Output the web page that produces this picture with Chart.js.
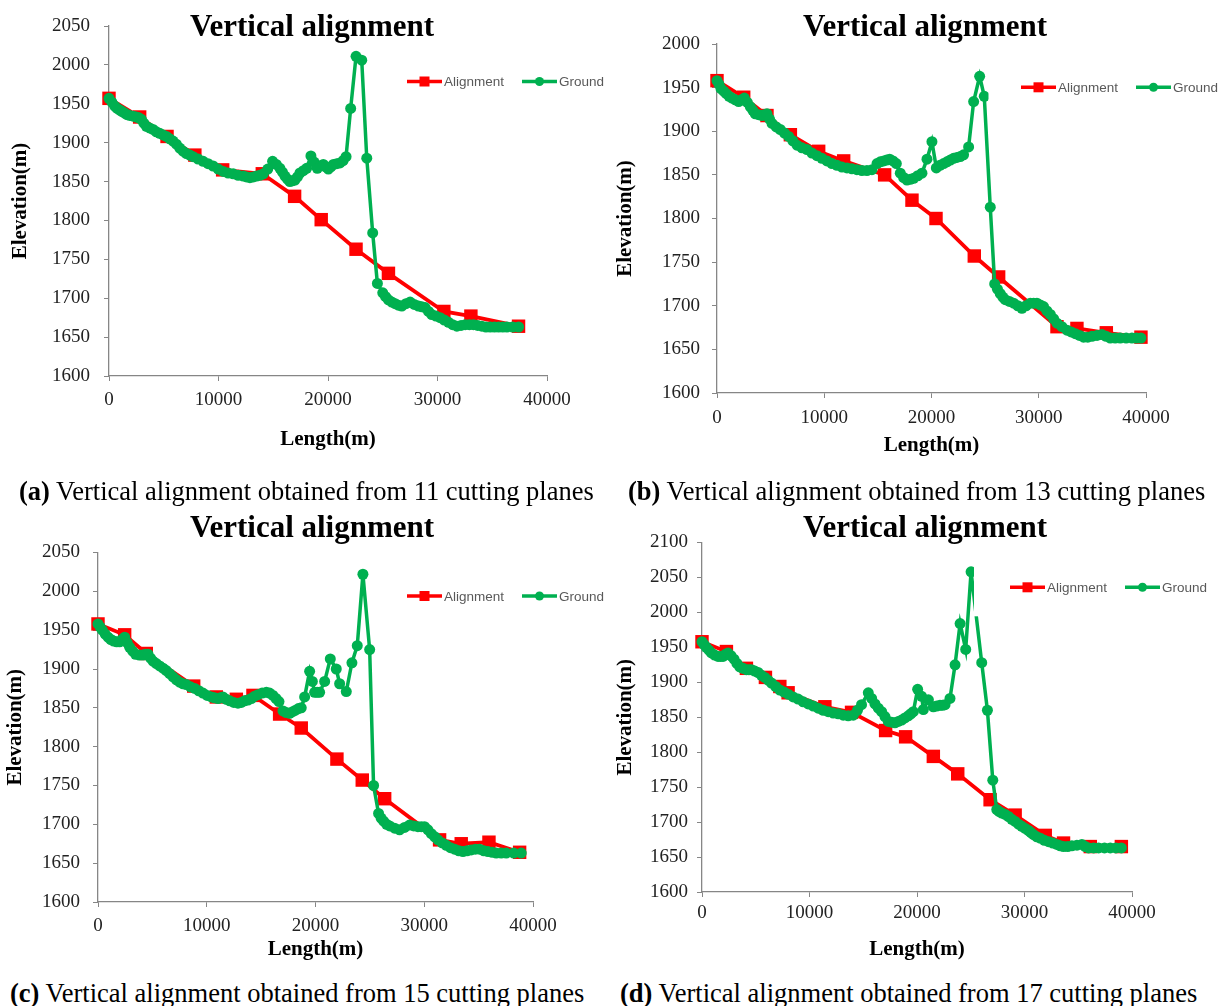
<!DOCTYPE html>
<html>
<head>
<meta charset="utf-8">
<script src="https://cdn.jsdelivr.net/npm/chart.js@4/dist/chart.umd.min.js"></script>
<style>
  body { margin: 0; background: #fff; width: 1218px; height: 1006px; position: relative; overflow: hidden; }
  canvas { position: absolute; }
  .title { position: absolute; font-family: "Liberation Serif", serif; font-weight: bold; font-size: 31px; color: #000; white-space: nowrap; transform: translate(-50%, -50%); }
  .caption { position: absolute; font-family: "Liberation Serif", serif; font-size: 26.5px; color: #000; white-space: nowrap; transform: translateY(-50%); }
</style>
</head>
<body>
<canvas id="chartA" width="610" height="470" style="left:0;top:0"></canvas>
<canvas id="chartB" width="608" height="470" style="left:610px;top:0"></canvas>
<canvas id="chartC" width="610" height="470" style="left:0;top:500px"></canvas>
<canvas id="chartD" width="608" height="470" style="left:610px;top:500px"></canvas>

<div class="title" style="left:312px;top:26px">Vertical alignment</div>
<div class="title" style="left:925px;top:26px">Vertical alignment</div>
<div class="title" style="left:312px;top:527px">Vertical alignment</div>
<div class="title" style="left:925px;top:527px">Vertical alignment</div>

<div class="caption" style="left:19px;top:491px"><b>(a)</b> Vertical alignment obtained from 11 cutting planes</div>
<div class="caption" style="left:628px;top:491px"><b>(b)</b> Vertical alignment obtained from 13 cutting planes</div>
<div class="caption" style="left:10px;top:993px"><b>(c)</b> Vertical alignment obtained from 15 cutting planes</div>
<div class="caption" style="left:620px;top:993px"><b>(d)</b> Vertical alignment obtained from 17 cutting planes</div>

<script>
// [length (m), elevation (m)]

// (a) 11 cutting planes
const alignA = [[0, 1957], [2800, 1933], [5300, 1908], [7840, 1884], [10380, 1865], [14000, 1860], [16950, 1831], [19380, 1801], [22560, 1763], [25520, 1732], [30580, 1683], [33050, 1677], [37400, 1664]];
const groundA = [
  [0, 1957], [260, 1952], [520, 1947], [750, 1944], [980, 1942], [1200, 1940], [1430, 1938], [1650, 1936], [1890, 1935], [2200, 1934],
  [2500, 1933], [2730, 1932], [2960, 1930], [3180, 1925], [3410, 1921], [3700, 1919], [4020, 1917], [4320, 1914], [4630, 1912], [4930, 1910],
  [5240, 1908], [5550, 1905], [5850, 1902], [6150, 1898], [6460, 1893], [6760, 1889], [7070, 1886], [7380, 1884], [7680, 1882], [8140, 1879],
  [8600, 1876], [9050, 1873], [9510, 1870], [9970, 1866], [10430, 1863], [10880, 1861], [11340, 1860], [11800, 1858], [12260, 1857], [12560, 1856],
  [12870, 1855], [13180, 1856], [13480, 1857], [13780, 1858], [14090, 1860], [14500, 1866], [14940, 1876], [15280, 1872], [15610, 1867], [15840, 1862],
  [16070, 1857], [16300, 1853], [16520, 1850], [16750, 1851], [16980, 1852], [17210, 1856], [17440, 1861], [17750, 1864], [18050, 1867], [18440, 1883],
  [18730, 1875], [19020, 1867], [19300, 1870], [19570, 1872], [19800, 1869], [20030, 1866], [20260, 1869], [20490, 1872], [20800, 1873], [21100, 1874],
  [21380, 1877], [21650, 1882], [22070, 1944], [22560, 2011], [23080, 2006], [23540, 1880], [24080, 1784], [24510, 1719], [25000, 1707], [25260, 1702],
  [25520, 1698], [25830, 1695], [26130, 1693], [26430, 1691], [26740, 1690], [27120, 1693], [27500, 1695], [27880, 1692], [28260, 1690], [28570, 1689],
  [28870, 1688], [29180, 1683], [29480, 1679], [29860, 1677], [30240, 1675], [30620, 1672], [31010, 1669], [31390, 1666], [31770, 1664], [32150, 1665],
  [32530, 1666], [32910, 1666], [33290, 1666], [33670, 1665], [34050, 1664], [34430, 1663], [34820, 1663], [35200, 1663], [35580, 1663], [35960, 1663],
  [36340, 1663], [36870, 1663], [37410, 1663]
];

// (b) 13 cutting planes
const alignB = [[0, 1958], [2490, 1939], [4660, 1918], [6840, 1896], [9480, 1877], [11810, 1866], [15630, 1850], [18180, 1821], [20420, 1800], [23990, 1757], [26260, 1733], [31700, 1676], [33560, 1674], [36300, 1669], [39530, 1664]];
const groundB = [
  [0, 1958], [180, 1954], [370, 1949], [620, 1946], [870, 1943], [1130, 1940], [1400, 1938], [1710, 1936], [2020, 1934], [2290, 1936],
  [2550, 1938], [2830, 1933], [3110, 1928], [3340, 1924], [3570, 1920], [3880, 1919], [4200, 1918], [4430, 1919], [4660, 1920], [4900, 1914],
  [5130, 1909], [5520, 1905], [5900, 1902], [6290, 1898], [6680, 1894], [7070, 1889], [7460, 1884], [7920, 1881], [8390, 1879], [8850, 1875],
  [9320, 1872], [9780, 1869], [10250, 1866], [10720, 1863], [11190, 1861], [11650, 1859], [12120, 1858], [12580, 1857], [13050, 1856], [13510, 1855],
  [13980, 1855], [14450, 1856], [14920, 1863], [15230, 1865], [15540, 1866], [15820, 1867], [16100, 1868], [16410, 1866], [16720, 1863], [17090, 1852],
  [17400, 1847], [17710, 1844], [18020, 1845], [18330, 1846], [18720, 1849], [19110, 1852], [19580, 1868], [20040, 1888], [20450, 1858], [20790, 1861],
  [21130, 1863], [21440, 1865], [21750, 1867], [22060, 1869], [22370, 1870], [22680, 1871], [22990, 1873], [23460, 1882], [23930, 1934], [24490, 1963],
  [24920, 1940], [25480, 1813], [25890, 1725], [26150, 1719], [26410, 1714], [26650, 1710], [26880, 1707], [27270, 1705], [27660, 1703], [28050, 1700],
  [28430, 1697], [28820, 1700], [29210, 1703], [29520, 1703], [29830, 1703], [30140, 1701], [30450, 1699], [30760, 1694], [31080, 1690], [31390, 1685],
  [31700, 1680], [32160, 1676], [32630, 1672], [33020, 1670], [33410, 1668], [33800, 1666], [34180, 1664], [34570, 1664], [34960, 1665], [35430, 1666],
  [35890, 1667], [36280, 1665], [36670, 1663], [37130, 1663], [37600, 1663], [38150, 1663], [38690, 1663], [39110, 1663], [39530, 1663]
];

// (c) 15 cutting planes
const alignC = [[0, 1958], [2450, 1944], [4440, 1920], [8800, 1878], [10880, 1864], [12720, 1861], [14250, 1866], [16700, 1842], [18690, 1824], [21970, 1784], [24300, 1757], [26360, 1733], [31410, 1680], [33400, 1675], [35950, 1677], [38770, 1664]];
const groundC = [
  [0, 1958], [200, 1954], [400, 1950], [660, 1945], [920, 1941], [1180, 1938], [1440, 1936], [1720, 1935], [1990, 1935], [2220, 1938],
  [2450, 1941], [2680, 1934], [2910, 1928], [3190, 1923], [3460, 1919], [3800, 1918], [4140, 1918], [4370, 1919], [4600, 1919], [4830, 1914],
  [5060, 1910], [5370, 1907], [5670, 1904], [5980, 1901], [6280, 1898], [6590, 1894], [6900, 1890], [7210, 1886], [7510, 1883], [7820, 1881],
  [8120, 1880], [8500, 1877], [8890, 1875], [9270, 1872], [9650, 1869], [10040, 1866], [10420, 1864], [10730, 1863], [11030, 1862], [11260, 1863],
  [11490, 1864], [11800, 1861], [12110, 1859], [12490, 1857], [12870, 1856], [13180, 1857], [13480, 1859], [13790, 1860], [14100, 1862], [14400, 1865],
  [14710, 1867], [15100, 1869], [15480, 1870], [15780, 1869], [16090, 1866], [16370, 1862], [16640, 1858], [17010, 1846], [17310, 1844], [17620, 1843],
  [17900, 1845], [18170, 1847], [18430, 1849], [18690, 1850], [19000, 1864], [19460, 1897], [19710, 1884], [19920, 1870], [20150, 1870], [20380, 1870],
  [20840, 1884], [21360, 1913], [21910, 1900], [22220, 1881], [22830, 1871], [23350, 1908], [23840, 1930], [24360, 2022], [24980, 1925], [25340, 1750],
  [25800, 1714], [26030, 1708], [26260, 1704], [26540, 1700], [26820, 1698], [27280, 1695], [27730, 1693], [28190, 1696], [28650, 1699], [29040, 1698],
  [29420, 1697], [29730, 1697], [30030, 1697], [30340, 1693], [30650, 1688], [30960, 1684], [31260, 1680], [31650, 1676], [32030, 1673], [32410, 1670],
  [32790, 1668], [33180, 1666], [33560, 1665], [33940, 1666], [34320, 1667], [34700, 1668], [35090, 1668], [35480, 1666], [35860, 1665], [36240, 1664],
  [36620, 1663], [37080, 1663], [37540, 1663], [38230, 1663], [38920, 1663]
];

// (d) 17 cutting planes
const alignD = [[0, 1958], [2270, 1944], [4130, 1920], [5900, 1907], [7240, 1894], [8010, 1885], [11430, 1865], [13910, 1857], [17080, 1831], [18940, 1822], [21520, 1794], [23790, 1769], [26800, 1732], [29130, 1710], [31930, 1681], [33630, 1670], [36120, 1665], [39010, 1665]];
const groundD = [
  [0, 1958], [200, 1954], [400, 1950], [640, 1946], [870, 1942], [1180, 1939], [1490, 1937], [1730, 1937], [1960, 1937], [2190, 1940],
  [2420, 1942], [2700, 1938], [2980, 1933], [3250, 1927], [3510, 1922], [3820, 1920], [4130, 1918], [4370, 1918], [4600, 1918], [4910, 1916],
  [5220, 1914], [5530, 1910], [5840, 1907], [6150, 1903], [6460, 1899], [6850, 1894], [7240, 1889], [7630, 1886], [8010, 1883], [8480, 1879],
  [8940, 1876], [9410, 1872], [9880, 1869], [10350, 1866], [10810, 1863], [11280, 1860], [11740, 1858], [12210, 1856], [12670, 1855], [13140, 1853],
  [13600, 1852], [14070, 1853], [14460, 1860], [14840, 1868], [15470, 1885], [15780, 1877], [16090, 1869], [16400, 1863], [16710, 1858], [17020, 1851],
  [17330, 1844], [17640, 1843], [17950, 1842], [18260, 1844], [18570, 1846], [18880, 1849], [19190, 1852], [19430, 1855], [19660, 1858], [20060, 1890],
  [20430, 1880], [20590, 1861], [21060, 1875], [21520, 1865], [21830, 1866], [22140, 1867], [22380, 1867], [22610, 1868], [23070, 1877], [23540, 1925],
  [24010, 1984], [24530, 1947], [25030, 2058], [26020, 1928], [26550, 1860], [27050, 1760], [27420, 1718], [27650, 1715], [27890, 1713], [28200, 1711],
  [28510, 1708], [28820, 1704], [29130, 1701], [29440, 1697], [29750, 1694], [30060, 1691], [30370, 1688], [30600, 1685], [30840, 1682], [31150, 1679],
  [31460, 1677], [31850, 1674], [32240, 1672], [32630, 1670], [33010, 1668], [33320, 1666], [33630, 1665], [34020, 1665], [34410, 1666], [34880, 1667],
  [35340, 1668], [35650, 1665], [35960, 1663], [36430, 1663], [36890, 1663], [37440, 1663], [37980, 1663], [38500, 1663], [39010, 1663]
];

const RED = "#ff0000";
const GREEN = "#00b050";
const AXIS = "#868686";

function Points(pairs) {
  let pts = [];
  for (let i = 0; i < pairs.length; i++) {
    pts.push({ x: pairs[i][0], y: pairs[i][1] });
  }
  return pts;
}

// legend drawn inside the plot, Excel style, with its white box
const excelLegend = {
  id: "excelLegend",
  afterDatasetsDraw(chart, args, opts) {
    const ctx = chart.ctx;
    ctx.save();
    ctx.fillStyle = "#fff";
    ctx.fillRect(opts.boxLeft, opts.y - 29, chart.width - opts.boxLeft, 58);
    chart.data.datasets.forEach(function (ds, i) {
      let x = opts.x + i * 115;
      ctx.strokeStyle = ds.borderColor;
      ctx.lineWidth = 3.5;
      ctx.beginPath();
      ctx.moveTo(x, opts.y);
      ctx.lineTo(x + 35, opts.y);
      ctx.stroke();
      ctx.fillStyle = ds.borderColor;
      if (ds.pointStyle === "rect") {
        ctx.fillRect(x + 12.5, opts.y - 5, 10, 10);
      } else {
        ctx.beginPath();
        ctx.arc(x + 17.5, opts.y, 4.5, 0, Math.PI * 2);
        ctx.fill();
      }
      ctx.fillStyle = "#595959";
      ctx.font = "13.5px 'Liberation Sans', sans-serif";
      ctx.textBaseline = "middle";
      ctx.textAlign = "left";
      ctx.fillText(ds.label, x + 37, opts.y + 1);
    });
    ctx.restore();
  },
};

function Panel(id, align, ground, box) {
  const data = {
    datasets: [
      {
        label: "Alignment",
        data: Points(align),
        borderColor: RED,
        backgroundColor: RED,
        borderWidth: 3.8,
        pointStyle: "rect",
        pointRadius: 9.5,
        pointBorderWidth: 0,
        order: 1,
        clip: false,
      },
      {
        label: "Ground",
        data: Points(ground),
        borderColor: GREEN,
        backgroundColor: GREEN,
        borderWidth: 3.5,
        pointStyle: "circle",
        pointRadius: 5.5,
        pointBorderWidth: 0,
        order: 0,
        clip: false,
      },
    ],
  };
  const tickFont = { family: "'Liberation Serif', serif", size: 19 };
  const titleFont = { family: "'Liberation Serif', serif", size: 21, weight: "bold" };
  const config = {
    type: "line",
    data: data,
    plugins: [excelLegend],
    options: {
      responsive: false,
      animation: false,
      events: [],
      layout: {
        padding: { left: 0, top: box.top, right: box.w - box.right, bottom: box.padBottom },
      },
      plugins: {
        legend: { display: false },
        tooltip: { enabled: false },
        title: { display: false },
        excelLegend: { x: box.legendX, y: box.legendY, boxLeft: box.boxLeft },
      },
      scales: {
        x: {
          type: "linear",
          min: 0,
          max: 40000,
          border: { color: AXIS, width: 1.3 },
          grid: { drawOnChartArea: false, drawTicks: true, tickLength: 5, color: AXIS },
          ticks: {
            stepSize: 10000,
            color: "#222",
            font: tickFont,
            padding: box.xTickPad,
            maxRotation: 0,
            callback: function (v) {
              return String(v);
            },
          },
          title: { display: true, text: "Length(m)", color: "#000", font: titleFont, padding: 0 },
          afterFit: function (s) {
            s.height = box.xHeight;
            s.paddingLeft = 0;
            s.paddingRight = 0;
          },
        },
        y: {
          min: box.yMin,
          max: box.yMax,
          border: { color: AXIS, width: 1.3 },
          grid: { drawOnChartArea: false, drawTicks: true, tickLength: 5, color: AXIS },
          ticks: {
            stepSize: 50,
            color: "#222",
            font: tickFont,
            padding: box.yTickPad,
            callback: function (v) {
              return String(v);
            },
          },
          title: {
            display: true,
            text: "Elevation(m)",
            color: "#000",
            font: titleFont,
            padding: { top: box.yTitlePad, bottom: 0 },
          },
          afterFit: function (s) {
            s.width = box.left;
            s.paddingTop = 0;
            s.paddingBottom = 0;
          },
        },
      },
    },
  };
  new Chart(document.getElementById(id), config);
}

Panel("chartA", alignA, groundA, {
  w: 610, left: 109, right: 547, top: 26, padBottom: 17.4, xHeight: 76.6,
  yMin: 1600, yMax: 2050, xTickPad: 8, yTickPad: 14, yTitlePad: 8,
  legendX: 407, legendY: 81.5, boxLeft: 371,
});
Panel("chartB", alignB, groundB, {
  w: 608, left: 107, right: 536, top: 44, padBottom: 11.4, xHeight: 65.6,
  yMin: 1600, yMax: 2000, xTickPad: 8.6, yTickPad: 12, yTitlePad: 3,
  legendX: 411, legendY: 87.3, boxLeft: 378.5,
});
Panel("chartC", alignC, groundC, {
  w: 610, left: 98, right: 533, top: 52.5, padBottom: 7.4, xHeight: 60.6,
  yMin: 1600, yMax: 2050, xTickPad: 7.6, yTickPad: 13, yTitlePad: 3,
  legendX: 407, legendY: 96, boxLeft: 371,
});
Panel("chartD", alignD, groundD, {
  w: 608, left: 92, right: 522, top: 42.5, padBottom: 7.4, xHeight: 70.6,
  yMin: 1600, yMax: 2100, xTickPad: 4.6, yTickPad: 9, yTitlePad: 3,
  legendX: 400, legendY: 87.3, boxLeft: 364,
});
</script>
</body>
</html>
